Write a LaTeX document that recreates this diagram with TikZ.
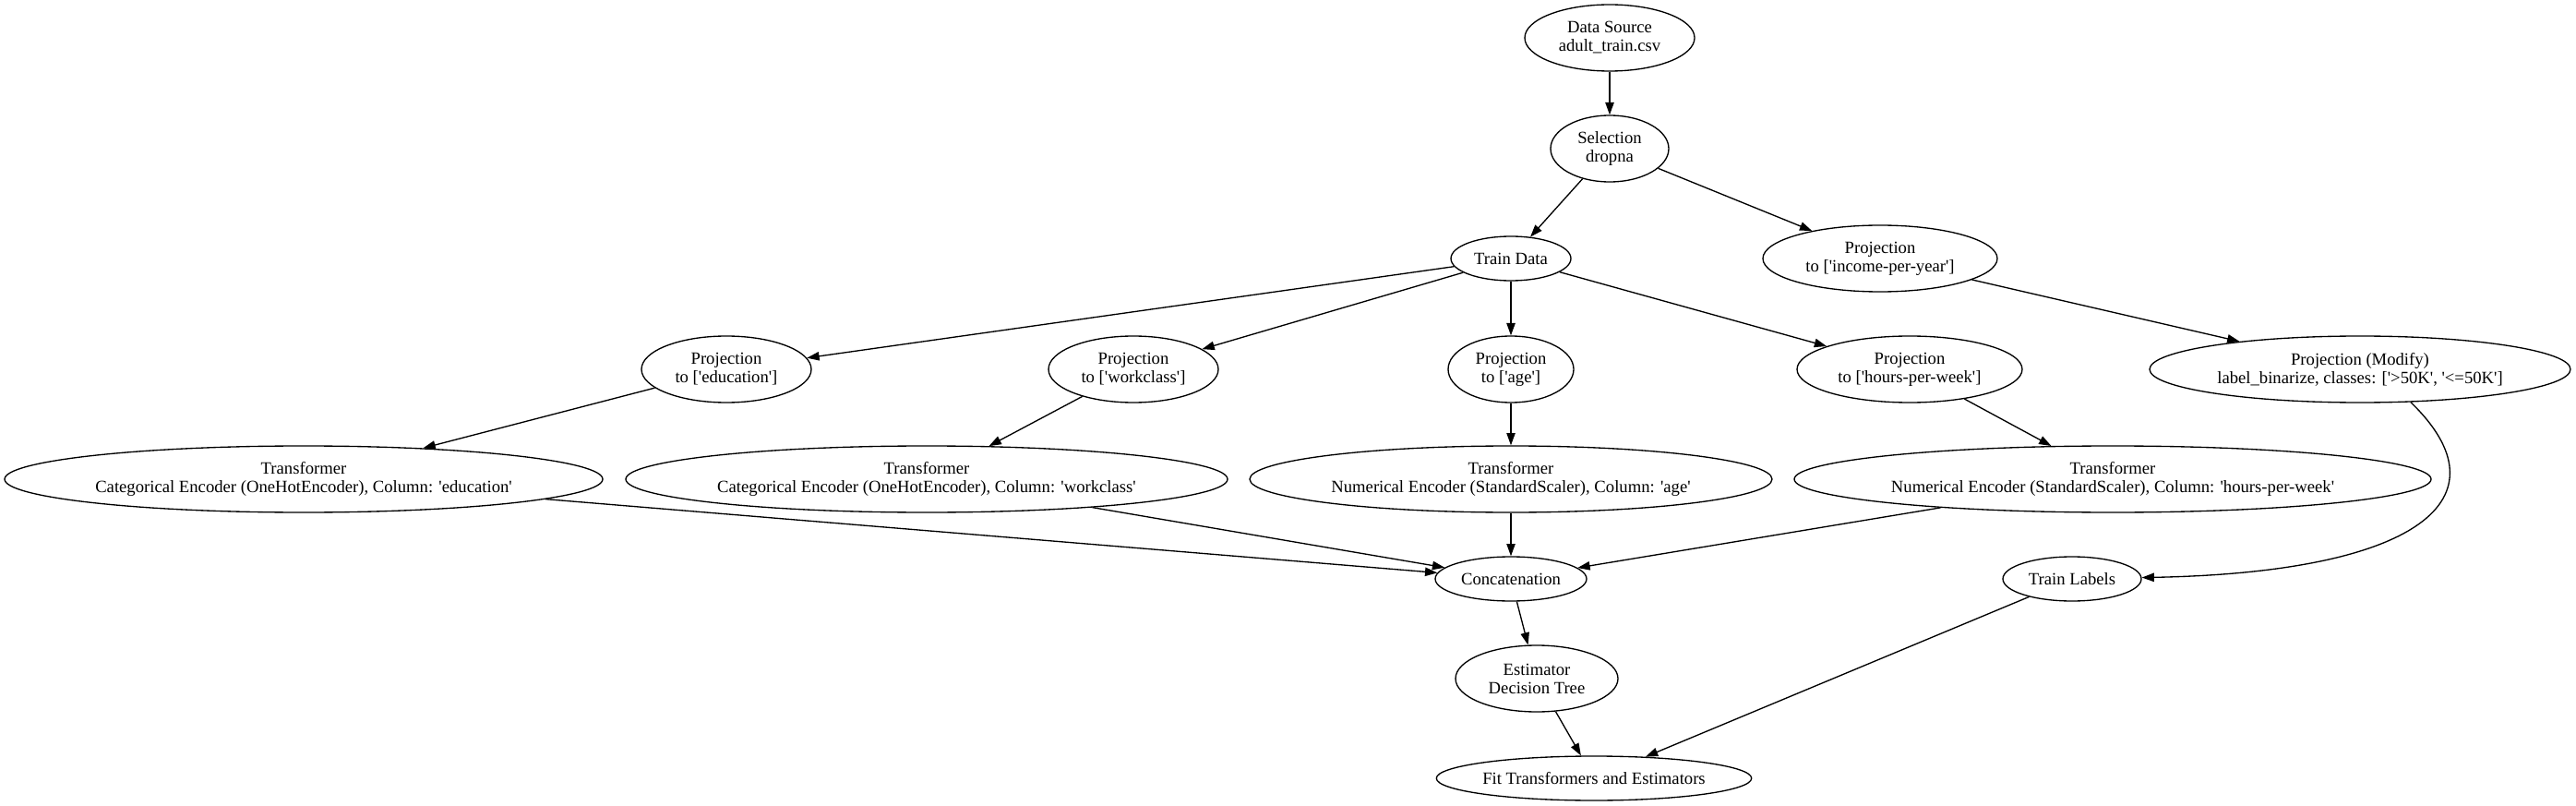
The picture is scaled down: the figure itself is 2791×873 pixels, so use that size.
\documentclass[tikz,border=0pt]{standalone}
\usepackage{fontspec}
\setmainfont{Liberation Serif}
\usetikzlibrary{shapes.geometric,arrows.meta}
\newcommand\sq{\textquotesingle}
\begin{document}
\begin{tikzpicture}[x=0.75pt,y=-0.75pt,
  gnode/.style={draw, ellipse, line width=1pt, inner sep=0pt, align=center,
    font=\fontsize{14}{15}\selectfont},
  two/.style={minimum height=54pt},
  one/.style={minimum height=36pt},
  edge/.style={draw, line width=1pt, -{Triangle[length=10pt,width=7pt]}}]
\useasboundingbox (0,0) rectangle (2791,873);
\node[gnode,two,minimum width=138pt] (ds) at (1744,41) {Data Source\\adult\_train.csv};
\node[gnode,two,minimum width=96pt] (sel) at (1744,161) {Selection\\dropna};
\node[gnode,one,minimum width=97.5pt] (td) at (1637,280) {Train Data};
\node[gnode,two,minimum width=190.5pt] (pinc) at (2037,280) {Projection\\to [\sq income-per-year\sq]};
\node[gnode,two,minimum width=138pt] (pedu) at (787,400) {Projection\\to [\sq education\sq]};
\node[gnode,two,minimum width=138pt] (pwork) at (1228,400) {Projection\\to [\sq workclass\sq]};
\node[gnode,two,minimum width=102pt] (page) at (1637,400) {Projection\\to [\sq age\sq]};
\node[gnode,two,minimum width=183pt] (phrs) at (2069,400) {Projection\\to [\sq hours-per-week\sq]};
\node[gnode,two,minimum width=342pt] (pmod) at (2557,400) {Projection (Modify)\\label\_binarize, classes: [\sq{}>50K\sq, \sq{}<=50K\sq]};
\node[gnode,two,minimum width=486pt] (tedu) at (329,519) {Transformer\\Categorical Encoder (OneHotEncoder), Column: \sq education\sq};
\node[gnode,two,minimum width=489pt] (twork) at (1004,519) {Transformer\\Categorical Encoder (OneHotEncoder), Column: \sq workclass\sq};
\node[gnode,two,minimum width=424.5pt] (tage) at (1637,519) {Transformer\\Numerical Encoder (StandardScaler), Column: \sq age\sq};
\node[gnode,two,minimum width=517.5pt] (thrs) at (2289,519) {Transformer\\Numerical Encoder (StandardScaler), Column: \sq hours-per-week\sq};
\node[gnode,one,minimum width=123pt] (cat) at (1637,627) {Concatenation};
\node[gnode,one,minimum width=112.5pt] (tl) at (2245,627) {Train Labels};
\node[gnode,two,minimum width=132pt] (est) at (1665,735) {Estimator\\Decision Tree};
\node[gnode,one,minimum width=252pt] (fit) at (1727,843) {Fit Transformers and Estimators};
\draw[edge] (ds) -- (sel);
\draw[edge] (sel) -- (td);
\draw[edge] (sel) -- (pinc);
\draw[edge] (td) -- (pedu);
\draw[edge] (td) -- (pwork);
\draw[edge] (td) -- (page);
\draw[edge] (td) -- (phrs);
\draw[edge] (pinc) -- (pmod);
\draw[edge] (pedu) -- (tedu);
\draw[edge] (pwork) -- (twork);
\draw[edge] (page) -- (tage);
\draw[edge] (phrs) -- (thrs);
\draw[edge] (pmod.-33.4) .. controls (2720,540) and (2620,620) .. (tl);
\draw[edge] (tedu) -- (cat);
\draw[edge] (twork) -- (cat);
\draw[edge] (tage) -- (cat);
\draw[edge] (thrs) -- (cat);
\draw[edge] (cat) -- (est);
\draw[edge] (est) -- (fit);
\draw[edge] (tl) -- (fit);
\end{tikzpicture}
\end{document}
